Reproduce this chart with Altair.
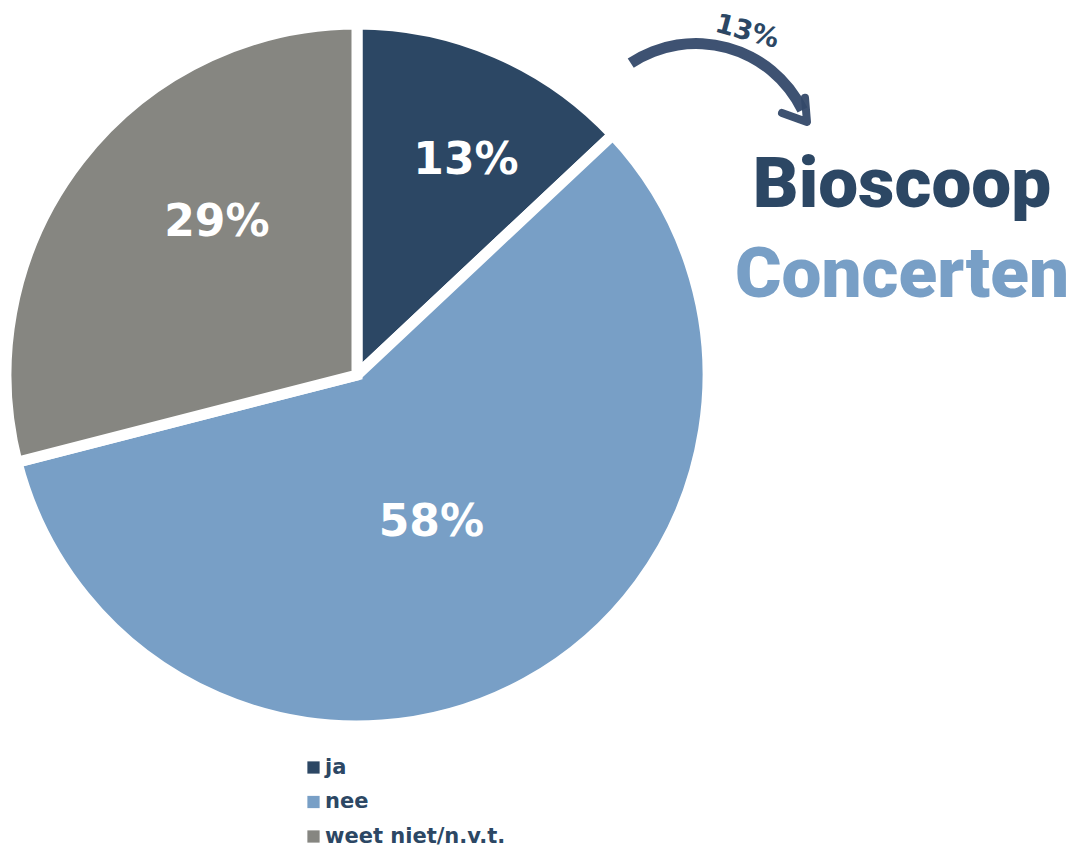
import altair as alt
import pandas as pd

categories = ["ja", "nee", "weet niet/n.v.t."]
values = [13, 58, 29]
labels = ["13%", "58%", "29%"]
colors = ["#2C4764", "#789FC6", "#868681"]
title_lines = ["Bioscoop", "Concerten"]
title_colors = ["#2C4764", "#789FC6"]
callout = "13%"

df = pd.DataFrame({"cat": categories, "value": values, "label": labels, "idx": list(range(len(categories)))})

CX, CY = 349, 367

arc = alt.Chart(df).mark_arc(outerRadius=351, stroke="white", strokeWidth=11).encode(
    theta=alt.Theta("value:Q", stack=True),
    order=alt.Order("idx:Q"),
    x=alt.value(CX), y=alt.value(CY),
    color=alt.Color("cat:N", scale=alt.Scale(domain=categories, range=colors),
                    legend=alt.Legend(title=None, orient="none", legendX=295, legendY=749,
                                      symbolType="square", symbolSize=150, symbolStrokeWidth=0,
                                      labelFont="DejaVu Sans", labelFontWeight="bold", labelFontSize=21,
                                      labelColor="#2C4764", labelOffset=1, rowPadding=12.5,
                                      labelLimit=0)),
)

# label placement: slice mid-angle, with per-slice radius / nudge
text = alt.Chart(df).transform_window(
    cum="sum(value)", sort=[alt.SortField("idx")], frame=[None, 0]
).transform_calculate(
    mid="(datum.cum - datum.value / 2) / 100 * 2 * PI",
    r="datum.cat == 'ja' ? 240 : (datum.cat == 'nee' ? 166 : 207)",
    nudge="datum.cat == 'ja' ? 3.6 : (datum.cat == 'nee' ? 2.2 : 9.6)",
).transform_calculate(
    a="datum.mid + datum.nudge * PI / 180",
).transform_calculate(
    px=f"{CX} + datum.r * sin(datum.a)",
    py=f"{CY} - datum.r * cos(datum.a)",
).mark_text(font="DejaVu Sans", fontWeight="bold", fontSize=44, color="white", baseline="middle").encode(
    x=alt.X("px:Q", scale=None, axis=None),
    y=alt.Y("py:Q", scale=None, axis=None),
    text="label:N",
)

tdf = pd.DataFrame({"t": title_lines, "c": title_colors, "i": [0, 1]})
titles = alt.Chart(tdf).mark_text(font="Roboto", fontWeight=900, fontSize=71, align="center", baseline="alphabetic").encode(
    x=alt.value(894),
    y=alt.Y("i:Q", scale=alt.Scale(domain=[0, 1], range=[199, 289]), axis=None),
    text="t:N",
    color=alt.Color("c:N", scale=None),
)

cdf = pd.DataFrame({"t": [callout]})
call = alt.Chart(cdf).mark_text(font="DejaVu Sans", fontWeight="bold", fontSize=27, angle=15, color="#2C4764").encode(
    x=alt.value(739), y=alt.value(24), text="t:N")

# curved arrow: arc band + chevron head
one = pd.DataFrame({"k": [1]})
shaft = alt.Chart(one).mark_arc(theta=5.70, theta2=7.40, innerRadius=113, outerRadius=124,
                                color="#34496A", opacity=0.95).encode(
    x=alt.value(688), y=alt.value(154))
head = alt.Chart(one).mark_point(shape="M -1 -0.7 L 0 0 L 0.2 -1.1", filled=False, strokeWidth=8,
                                 size=1900, angle=345, color="#34496A", opacity=0.95,
                                 strokeCap="round", strokeJoin="round").encode(
    x=alt.value(799), y=alt.value(114))

chart = alt.layer(arc, text, titles, call, shaft, head).properties(
    width=1061, height=840, padding=0, autosize="none",
).configure_view(stroke=None)

chart.save("out.html", embed_options={"renderer": "svg", "actions": False})
